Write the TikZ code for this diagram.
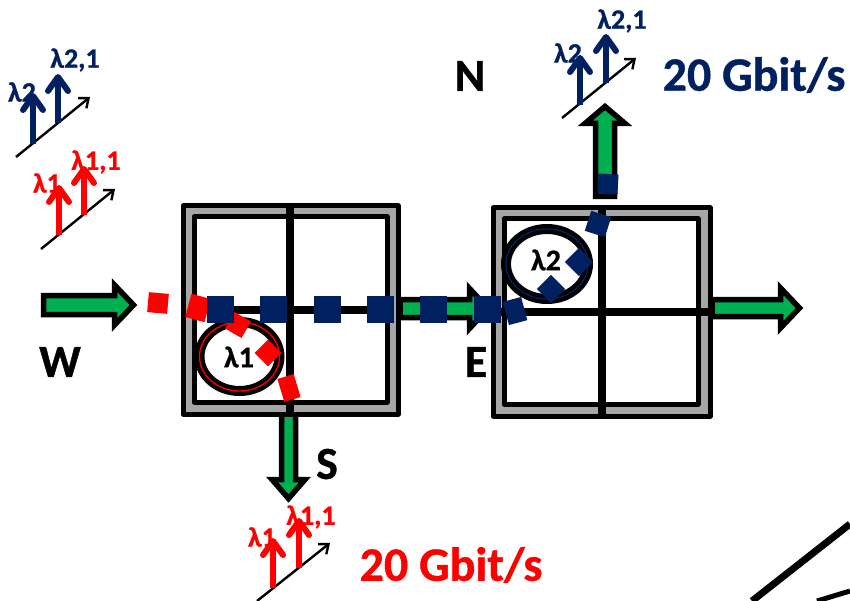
\documentclass[tikz,border=0pt]{standalone}
\usepackage{fontspec}
\setmainfont{Carlito}[BoldFeatures={FakeBold=0.8}]
\usetikzlibrary{arrows.meta}
\definecolor{navy}{RGB}{0,32,96}
\definecolor{sigred}{RGB}{255,0,0}
\definecolor{flow}{RGB}{0,176,80}
\definecolor{frame}{RGB}{166,166,166}
\tikzset{
  lbl/.style={inner sep=0pt,font=\bfseries\fontsize{#1}{#1}\selectfont},
  routerline/.style={draw=black,line width=5pt,line join=round},
  crossline/.style={draw=black,line width=7.5pt},
  flowarrow/.style={draw=black,fill=flow,line width=5.5pt,miter limit=10},
  blk/.style={fill=navy,inner sep=0pt,minimum width=#1,minimum height=#1},
  rblk/.style={fill=sigred,inner sep=0pt,minimum width=#1,minimum height=#1},
  ringline/.style={black,line width=10pt,fill=white},
  axisline/.style={draw=black,line width=2.4pt,-{Straight Barb[length=8pt,width=13pt,line width=2.4pt]}},
  wave/.style={line width=6pt,-{Straight Barb[length=14pt,width=20pt,line width=6pt,round]}},
}
\begin{document}
\begin{tikzpicture}[x=1pt,y=-1pt]
\useasboundingbox (0,0) rectangle (850,601);
% arrows lying behind the routers
\draw[flowarrow] (43.5,295.5) -- (114.5,295.5) -- (114.5,285) -- (133.5,305) -- (114.5,325) -- (114.5,314.5) -- (43.5,314.5) -- cycle;
\draw[flowarrow] (400,299.5) -- (469.5,299.5) -- (469.5,288.5) -- (488,308.5) -- (469.5,328.5) -- (469.5,317.5) -- (400,317.5) -- cycle;
\draw[flowarrow] (712,299.5) -- (780.5,299.5) -- (780.5,288) -- (799.5,308) -- (780.5,328) -- (780.5,316.5) -- (712,316.5) -- cycle;
\draw[flowarrow] (595.5,196.5) -- (595.5,123.5) -- (585,123.5) -- (605,106.5) -- (625,123.5) -- (614.5,123.5) -- (614.5,196.5) -- cycle;
\draw[flowarrow] (281.5,410) -- (281.5,479.5) -- (272,479.5) -- (288.5,498.5) -- (305,479.5) -- (295.5,479.5) -- (295.5,410) -- cycle;
% router 1
\draw[routerline,fill=frame] (183,206) rectangle (398,414);
\draw[routerline,fill=white] (194,217) rectangle (387,402);
\coordinate (r1n) at (290,204);\coordinate (r1s) at (290,416);
\coordinate (r1w) at (194,310);\coordinate (r1e) at (387,310);
% router 2
\draw[routerline,fill=frame] (493,208) rectangle (710,416);
\draw[routerline,fill=white] (504,219) rectangle (698,404);
\coordinate (r2n) at (602,206);\coordinate (r2s) at (602,416);
\coordinate (r2w) at (493,312);\coordinate (r2e) at (712,312);
% crossing lines
\draw[crossline] (r1n) -- (r1s);
\draw[crossline] (r1w) -- (r1e);
\draw[crossline] (r2n) -- (r2s);
\draw[crossline] (r2w) -- (r2e);
% rings
\draw[ringline] (239.5,356.5) ellipse [x radius=40,y radius=34.5];
\draw[sigred,line width=1.3pt] (239.5,356.5) ellipse [x radius=40,y radius=34.5];
\draw[ringline] (547,264) ellipse [x radius=41,y radius=35];
\draw[navy,line width=1.3pt] (547,264) ellipse [x radius=41,y radius=35];
\node[lbl=30] (ring1) at (239,357) {λ1};
\node[lbl=30] (ring2) at (546,260) {λ2};
% red path
\node[rblk=20pt,rotate=-5] (ra) at (158,303) {};
\node[rblk=20pt,minimum height=24pt,rotate=-15] (rb) at (198,308) {};
\node[rblk=19pt,rotate=-30] (rc) at (238,325) {};
\node[rblk=19pt,rotate=-45] (rd) at (268,353) {};
\node[rblk=17pt,minimum height=24pt,rotate=17] (re) at (289,388) {};
% blue path
\node[blk=27pt] (ba) at (220,309) {};
\node[blk=27pt] (bb) at (273,309) {};
\node[blk=27pt] (bc) at (327,309) {};
\node[blk=27pt] (bd) at (380,309) {};
\node[blk=27pt] (be) at (433,309) {};
\node[blk=27pt] (bf) at (487,309) {};
\node[blk=19pt,minimum height=24pt,rotate=15] (bg) at (515,311) {};
\node[blk=20pt,rotate=-45] (bh) at (551,289) {};
\node[blk=20pt,rotate=-45] (bi) at (579,262) {};
\node[blk=21pt,rotate=-18] (bj) at (598,224) {};
\node[blk=20pt,rotate=-3] (bk) at (608,184) {};
% spectrum icons
\coordinate (ia) at (16,157);\coordinate (ib) at (90,97);
\draw[axisline] (ia) -- (ib);
\coordinate (ip) at (33,144);\coordinate (iq) at (33,93);
\coordinate (ir) at (58,123);\coordinate (is) at (58,74);
\draw[wave,navy] (ip) -- (iq);\draw[wave,navy] (ir) -- (is);
\node[lbl=28,text=navy] (l1) at (22,92) {λ2};
\node[lbl=28,text=navy] (l2) at (75,60) {λ2,1};
\coordinate (ja) at (41,249);\coordinate (jb) at (115,189);
\draw[axisline] (ja) -- (jb);
\coordinate (jp) at (59,235);\coordinate (jq) at (59,185);
\coordinate (jr) at (84,215);\coordinate (js) at (84,166);
\draw[wave,sigred] (jp) -- (jq);\draw[wave,sigred] (jr) -- (js);
\node[lbl=28,text=sigred] (l3) at (47,183) {λ1};
\node[lbl=28,text=sigred] (l4) at (96,162) {λ1,1};
\coordinate (ka) at (562,118);\coordinate (kb) at (636,58);
\draw[axisline] (ka) -- (kb);
\coordinate (kp) at (580,105);\coordinate (kq) at (580,55);
\coordinate (kr) at (606,83);\coordinate (ks) at (606,34);
\draw[wave,navy] (kp) -- (kq);\draw[wave,navy] (kr) -- (ks);
\node[lbl=28,text=navy] (l5) at (568,53) {λ2};
\node[lbl=28,text=navy] (l6) at (622,21) {λ2,1};
\coordinate (ma) at (257,601);\coordinate (mb) at (330,543);
\draw[axisline] (ma) -- (mb);
\coordinate (mp) at (273,588);\coordinate (mq) at (273,538);
\coordinate (mr) at (299,568);\coordinate (ms) at (299,518);
\draw[wave,sigred] (mp) -- (mq);\draw[wave,sigred] (mr) -- (ms);
\node[lbl=28,text=sigred] (l7) at (262,537) {λ1};
\node[lbl=28,text=sigred] (l8) at (311,517) {λ1,1};
% labels
\node[lbl=48,text=navy] (rateN) at (754,75) {20 Gbit/s};
\node[lbl=48,text=sigred] (rateS) at (451,565) {20 Gbit/s};
\node[lbl=46] (N) at (470,76) {N};
\node[lbl=46] (W) at (60,362) {W};
\node[lbl=46] (E) at (476,362) {E};
\node[lbl=46] (S) at (327,464) {S};
% cut-off lines in the corner
\coordinate (ca) at (752,601);\coordinate (cb) at (850,524);
\coordinate (cc) at (817,601);\coordinate (cd) at (850,591);
\draw[black,line width=7pt] (ca) -- (cb);
\draw[black,line width=5pt] (cc) -- (cd);
\end{tikzpicture}
\end{document}
